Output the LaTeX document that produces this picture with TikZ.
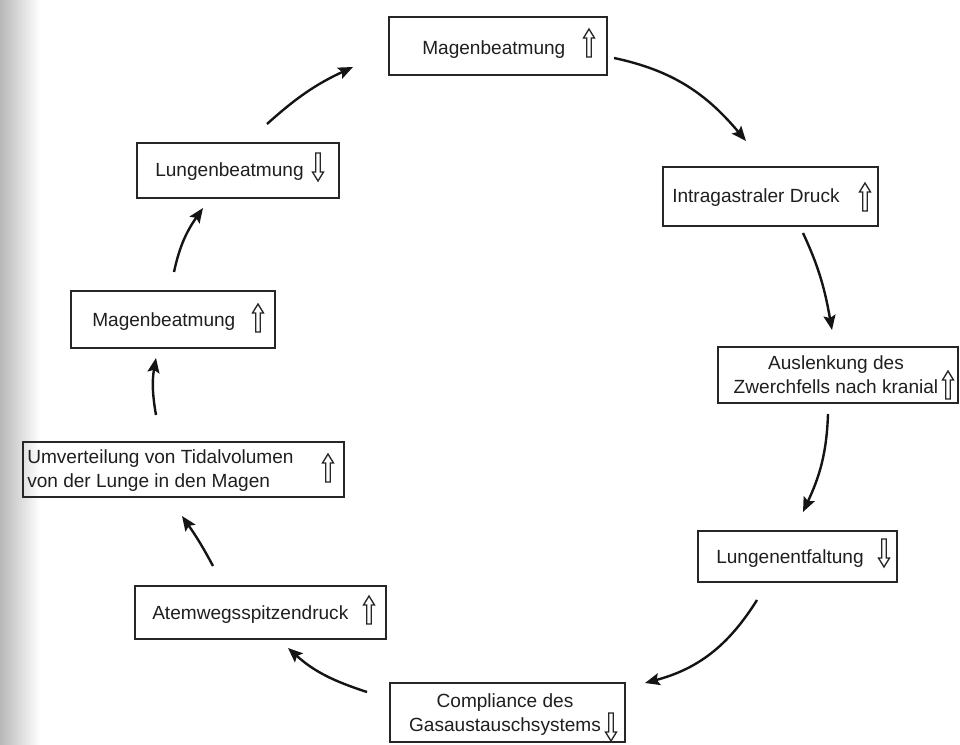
\documentclass[tikz,border=0pt]{standalone}
\usepackage{fontspec}
\setmainfont{Liberation Sans}
\usetikzlibrary{arrows.meta}
\begin{document}
\begin{tikzpicture}[x=0.75pt,y=0.75pt,
 box/.style={draw=black!85,line width=1.2pt,inner sep=0pt},
 lbl/.style={font=\fontsize{14.3}{18}\selectfont,inner sep=0pt,text=black!88},
 flow/.style={line width=1.8pt,draw=black!92,-{Stealth[length=11pt,width=9pt,inset=2pt]}},
 hollow/.style={draw=black!85,line width=1pt,fill=white,line join=miter},
 uarr/.pic={\path[hollow] (0,14) -- (5.5,5) -- (2.2,5) -- (2.2,-14) -- (-2.2,-14) -- (-2.2,5) -- (-5.5,5) -- cycle;},
 darr/.pic={\path[hollow] (0,-14) -- (5.5,-5) -- (2.2,-5) -- (2.2,14) -- (-2.2,14) -- (-2.2,-5) -- (-5.5,-5) -- cycle;}
]
\useasboundingbox (0,0) rectangle (960,744);
\fill[white] (0,0) rectangle (960,744);
\shade[left color=black!28,right color=white] (0,0) rectangle (40,744);

% boxes
\node[box,minimum width=163.5pt,minimum height=43.5pt] (b1) at (498,698) {};
\node[box,minimum width=161.25pt,minimum height=44.25pt] (b2) at (770.5,547.5) {};
\node[box,minimum width=180pt,minimum height=42pt] (b3) at (838,369) {};
\node[box,minimum width=149.25pt,minimum height=38.25pt] (b4) at (797.5,187.5) {};
\node[box,minimum width=176.25pt,minimum height=44.25pt] (b5) at (507.5,31.5) {};
\node[box,minimum width=188.25pt,minimum height=39.75pt] (b6) at (260.5,131.5) {};
\node[box,minimum width=240.75pt,minimum height=41.25pt] (b7) at (183.5,274.5) {};
\node[box,minimum width=153pt,minimum height=42.75pt] (b8) at (173,424.5) {};
\node[box,minimum width=151.5pt,minimum height=41.25pt] (b9) at (238,573.5) {};

% texts
\node[lbl,anchor=base west] (t1) at (422,689) {Magenbeatmung};
\node[lbl,anchor=base west] (t2) at (672,541) {Intragastraler Druck};
\node[lbl,align=center] (t3) at (836,369) {Auslenkung des\\Zwerchfells nach kranial};
\node[lbl,anchor=base west] (t4) at (716,181) {Lungenentfaltung};
\node[lbl,align=center] (t5) at (505,29) {Compliance des\\Gasaustauschsystems};
\node[lbl,anchor=base west] (t6) at (152,125) {Atemwegsspitzendruck};
\node[lbl,align=left,anchor=west] (t7) at (27,273) {Umverteilung von Tidalvolumen\\von der Lunge in den Magen};
\node[lbl,anchor=base west] (t8) at (92,418) {Magenbeatmung};
\node[lbl,anchor=base west] (t9) at (155,567) {Lungenbeatmung};

% hollow trend arrows
\pic at (589,701) {uarr};
\pic at (865,547) {uarr};
\pic at (948,359) {uarr};
\pic at (884,191) {darr};
\pic at (611,17) {darr};
\pic at (369,134) {uarr};
\pic at (328,276) {uarr};
\pic at (258,426) {uarr};
\pic at (318,577) {darr};

% connector ends
\coordinate (c1s) at (614,686); \coordinate (c1e) at (746,603);
\coordinate (c2s) at (803,511); \coordinate (c2e) at (832,414);
\coordinate (c3s) at (828,330); \coordinate (c3e) at (803,232);
\coordinate (c4s) at (757,144); \coordinate (c4e) at (645,61);
\coordinate (c5s) at (367,52);  \coordinate (c5e) at (288,96);
\coordinate (c6s) at (213,178); \coordinate (c6e) at (182,228);
\coordinate (c7s) at (156,329); \coordinate (c7e) at (156,386);
\coordinate (c8s) at (174,472); \coordinate (c8e) at (203,536);
\coordinate (c9s) at (267,620); \coordinate (c9e) at (353,677);

\draw[flow] (c1s) to[out=-12,in=130] (c1e);
\draw[flow] (c2s) to[out=-65,in=100] (c2e);
\draw[flow] (c3s) to[out=-92,in=65] (c3e);
\draw[flow] (c4s) to[out=-122,in=15] (c4e);
\draw[flow] (c5s) to[out=162,in=-42] (c5e);
\draw[flow] (c6s) to[out=118,in=-55] (c6e);
\draw[flow] (c7s) to[out=100,in=-100] (c7e);
\draw[flow] (c8s) to[out=78,in=-125] (c8e);
\draw[flow] (c9s) to[out=42,in=-155] (c9e);
\end{tikzpicture}
\end{document}
